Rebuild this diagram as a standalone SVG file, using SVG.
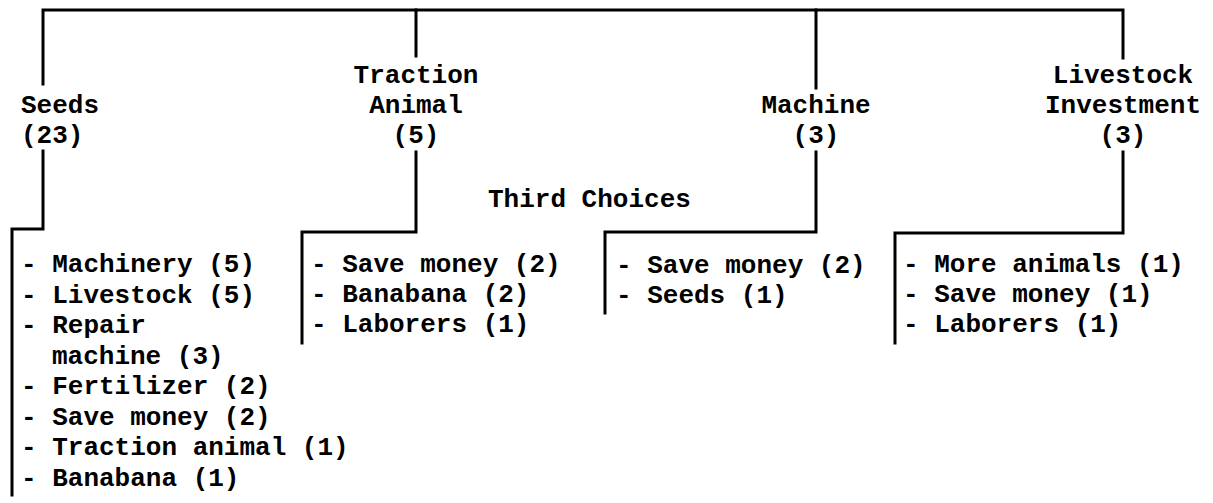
<svg xmlns="http://www.w3.org/2000/svg" width="1213" height="503" viewBox="0 0 1213 503">
<style>
.t{font-family:"Liberation Mono","DejaVu Sans Mono",monospace;font-size:26px;font-weight:bold;fill:#000}
.c{text-anchor:middle}
.ln{fill:none;stroke:#000;stroke-width:3;stroke-linecap:square;stroke-linejoin:miter}
</style>
<rect width="1213" height="503" fill="#fff"/>
<g id="connectors">
<path class="ln" d="M43 84 V10 H1123 V58"/>
<path class="ln" d="M416 10 V56"/>
<path class="ln" d="M816 10 V88"/>
<path class="ln" d="M43 151 V229 H12 V495"/>
<path class="ln" d="M416 152 V232 H302 V343"/>
<path class="ln" d="M816 152 V232 H605 V313"/>
<path class="ln" d="M1123 152 V233 H895 V343"/>
</g>
<g id="seeds">
<text class="t" x="21" y="113">Seeds</text>
<text class="t" x="21" y="143">(23)</text>
</g>
<g id="traction">
<text class="t c" x="416" y="83">Traction</text>
<text class="t c" x="416" y="113">Animal</text>
<text class="t c" x="416" y="143">(5)</text>
</g>
<g id="machine">
<text class="t c" x="816" y="113">Machine</text>
<text class="t c" x="816" y="143">(3)</text>
</g>
<g id="livestock">
<text class="t c" x="1123" y="83">Livestock</text>
<text class="t c" x="1123" y="113">Investment</text>
<text class="t c" x="1123" y="143">(3)</text>
</g>
<g id="title">
<text class="t" x="488" y="207">Third Choices</text>
</g>
<g id="seeds-list">
<text class="t" x="21" y="272">- Machinery (5)</text>
<text class="t" x="21" y="302.5">- Livestock (5)</text>
<text class="t" x="21" y="333">- Repair</text>
<text class="t" x="52" y="363.5">machine (3)</text>
<text class="t" x="21" y="394">- Fertilizer (2)</text>
<text class="t" x="21" y="424.5">- Save money (2)</text>
<text class="t" x="21" y="455">- Traction animal (1)</text>
<text class="t" x="21" y="485.5">- Banabana (1)</text>
</g>
<g id="traction-list">
<text class="t" x="311" y="272">- Save money (2)</text>
<text class="t" x="311" y="302">- Banabana (2)</text>
<text class="t" x="311" y="332">- Laborers (1)</text>
</g>
<g id="machine-list">
<text class="t" x="616" y="273">- Save money (2)</text>
<text class="t" x="616" y="303">- Seeds (1)</text>
</g>
<g id="livestock-list">
<text class="t" x="903" y="272">- More animals (1)</text>
<text class="t" x="903" y="302">- Save money (1)</text>
<text class="t" x="903" y="332">- Laborers (1)</text>
</g>
</svg>
